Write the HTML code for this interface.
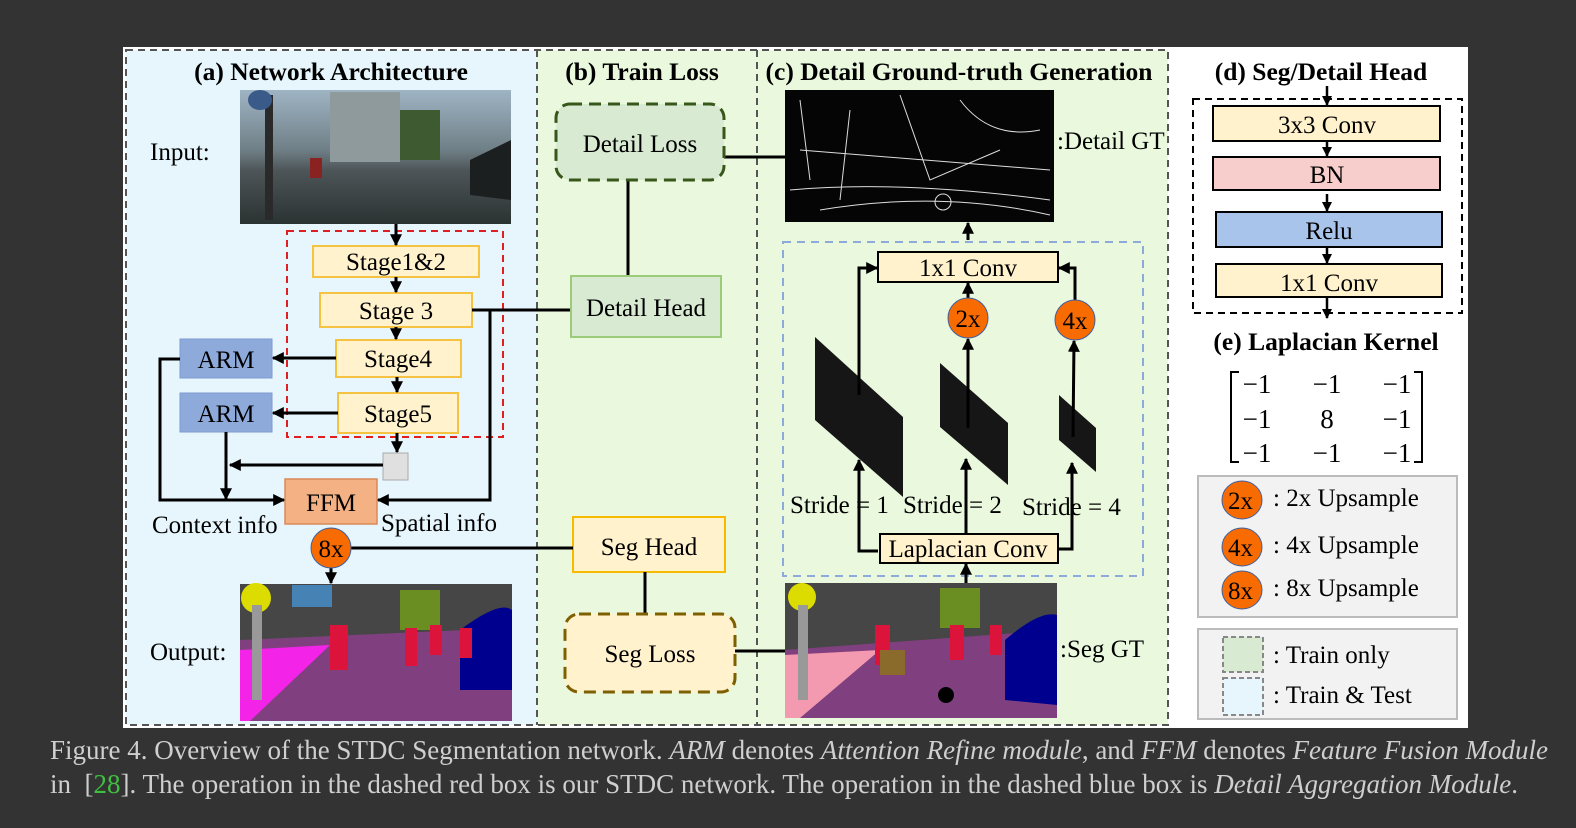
<!DOCTYPE html>
<html><head><meta charset="utf-8"><style>
body{margin:0;background:#333333;width:1576px;height:828px;overflow:hidden}
svg{position:absolute;left:0;top:0}
text{font-family:"Liberation Serif",serif;fill:#000}
.cap{position:absolute;left:50px;font-family:"Liberation Serif",serif;font-size:27px;color:#cfcfcf;white-space:nowrap}
</style></head><body>
<svg width="1576" height="828" viewBox="0 0 1576 828">
<defs>
<marker id="a" viewBox="0 0 10 10" refX="9" refY="5" markerWidth="4" markerHeight="4" orient="auto-start-reverse"><path d="M0,0L10,5L0,10z" fill="#000"/></marker>
<linearGradient id="sky" x1="0" y1="0" x2="0" y2="1"><stop offset="0" stop-color="#9fb4c4"/><stop offset="0.45" stop-color="#6f7f86"/><stop offset="0.6" stop-color="#4d5558"/><stop offset="1" stop-color="#2a3232"/></linearGradient>
</defs>
<rect x="123" y="47" width="1345" height="681" fill="#fff"/>
<rect x="126" y="50" width="411" height="675" fill="#e6f6fc"/>
<rect x="537" y="50" width="631" height="675" fill="#eaf8de"/>
<g fill="none" stroke="#555" stroke-width="2" stroke-dasharray="7,5">
<rect x="126" y="50" width="1042" height="675"/>
<line x1="537" y1="50" x2="537" y2="725"/><line x1="757" y1="50" x2="757" y2="725"/>
</g>
<g font-weight="bold" font-size="25.5" text-anchor="middle">
<text x="331" y="80">(a) Network Architecture</text>
<text x="642" y="80">(b) Train Loss</text>
<text x="959" y="80">(c) Detail Ground-truth Generation</text>
<text x="1321" y="80">(d) Seg/Detail Head</text>
<text x="1326" y="350">(e) Laplacian Kernel</text>
</g>
<rect x="240" y="90" width="271" height="134" fill="url(#sky)"/>
<rect x="330" y="92" width="70" height="70" fill="#8f9a9c"/><rect x="400" y="110" width="40" height="50" fill="#3e5a30"/>
<rect x="265" y="95" width="8" height="125" fill="#2a2a2a"/><ellipse cx="260" cy="100" rx="12" ry="10" fill="#3a5a8a"/>
<path d="M470,160 L511,140 L511,200 L470,195z" fill="#1c1f20"/>
<rect x="310" y="158" width="12" height="20" fill="#8a2222"/>
<g font-size="25"><text x="150" y="160">Input:</text><text x="150" y="660">Output:</text>
<text x="152" y="533">Context info</text><text x="381" y="531">Spatial info</text></g>
<rect x="287" y="231" width="216" height="206" fill="none" stroke="#e02020" stroke-width="2" stroke-dasharray="7,5"/>
<g fill="#fff2cc" stroke="#f5c242" stroke-width="2">
<rect x="313" y="246" width="166" height="31"/><rect x="320" y="293" width="152" height="34"/>
<rect x="336" y="340" width="125" height="37"/><rect x="338" y="393" width="120" height="40"/>
<rect x="573" y="517" width="152" height="55" stroke="#f6bb00"/>
</g>
<g fill="#8eaadb" stroke="#7e9bd0"><rect x="180" y="339" width="92" height="39"/><rect x="180" y="393" width="92" height="39"/></g>
<rect x="383" y="453" width="25" height="27" fill="#e0e0e0" stroke="#aaa"/>
<rect x="285" y="479" width="92" height="45" fill="#f4b183" stroke="#d98a5a" stroke-width="1.5"/>
<g font-size="25" text-anchor="middle">
<text x="396" y="270">Stage1&amp;2</text><text x="396" y="319">Stage 3</text><text x="398" y="367">Stage4</text><text x="398" y="422">Stage5</text>
<text x="226" y="368">ARM</text><text x="226" y="422">ARM</text><text x="331" y="511">FFM</text>
<text x="649" y="555">Seg Head</text>
</g>
<g stroke="#000" stroke-width="3" fill="none">
<line x1="396" y1="224" x2="396" y2="245" marker-end="url(#a)"/>
<line x1="396" y1="277" x2="396" y2="292" marker-end="url(#a)"/>
<line x1="396" y1="327" x2="396" y2="339" marker-end="url(#a)"/>
<line x1="397" y1="377" x2="397" y2="392" marker-end="url(#a)"/>
<line x1="397" y1="433" x2="397" y2="452" marker-end="url(#a)"/>
<line x1="336" y1="358" x2="273" y2="358" marker-end="url(#a)"/>
<line x1="338" y1="413" x2="273" y2="413" marker-end="url(#a)"/>
<line x1="383" y1="465" x2="230" y2="465" marker-end="url(#a)"/>
<line x1="226" y1="432" x2="226" y2="499" marker-end="url(#a)"/>
<polyline points="180,359 160,359 160,500 284,500" marker-end="url(#a)"/>
<polyline points="472,310 490,310 490,500 378,500" marker-end="url(#a)"/>
<line x1="472" y1="310" x2="571" y2="310"/>
<line x1="331" y1="568" x2="331" y2="583" marker-end="url(#a)"/>
<line x1="350" y1="548" x2="573" y2="548"/>
<line x1="628" y1="180" x2="628" y2="276"/>
<line x1="724" y1="157" x2="785" y2="157"/>
<line x1="645" y1="572" x2="645" y2="614"/>
<line x1="735" y1="651" x2="785" y2="651"/>
</g>
<rect x="240" y="584" width="272" height="137" fill="#464646"/>
<path d="M240,640 L512,628 L512,721 L240,721z" fill="#80407f"/>
<path d="M240,650 L330,645 L250,721 L240,721z" fill="#f423e8"/>
<rect x="400" y="590" width="40" height="40" fill="#6b8e23"/><rect x="292" y="585" width="40" height="22" fill="#4682b4"/>
<circle cx="256" cy="598" r="15" fill="#dcdc00"/><rect x="252" y="605" width="10" height="95" fill="#999"/>
<path d="M460,630 Q500,600 512,610 L512,690 L460,690z" fill="#00008e"/>
<g fill="#dc143c"><rect x="330" y="625" width="18" height="45"/><rect x="405" y="628" width="12" height="38"/><rect x="430" y="625" width="12" height="30"/><rect x="460" y="628" width="12" height="30"/></g>
<rect x="556" y="104" width="168" height="76" rx="14" fill="#d9ead3" stroke="#38571a" stroke-width="3" stroke-dasharray="12,7"/>
<rect x="571" y="276" width="150" height="61" fill="#d9ead3" stroke="#9ccc7a" stroke-width="2"/>
<rect x="565" y="614" width="170" height="78" rx="14" fill="#fff2cc" stroke="#7f6000" stroke-width="3" stroke-dasharray="12,7"/>
<g font-size="25" text-anchor="middle"><text x="640" y="152">Detail Loss</text><text x="646" y="316">Detail Head</text><text x="650" y="662">Seg Loss</text></g>
<rect x="785" y="90" width="269" height="132" fill="#050505"/>
<g stroke="#ddd" stroke-width="1" fill="none"><path d="M790,190 Q900,180 1050,200"/><path d="M800,100 L810,180"/><path d="M850,110 L840,200"/><path d="M900,95 L930,180 L1000,150"/><path d="M960,100 Q990,140 1040,130"/><path d="M800,150 L1050,170"/><circle cx="943" cy="202" r="8"/><path d="M820,210 Q940,190 1050,215"/></g>
<g font-size="25"><text x="1057" y="149">:Detail GT</text><text x="1060" y="657">:Seg GT</text></g>
<rect x="783" y="242" width="360" height="334" fill="none" stroke="#8eaadb" stroke-width="2" stroke-dasharray="8,6"/>
<g fill="#161616"><polygon points="815,337 903,417 903,497 815,420"/><polygon points="940,363 1008,423 1008,485 940,427"/><polygon points="1059,395 1096,428 1096,472 1059,440"/></g>
<g fill="#fff2cc" stroke="#000" stroke-width="2"><rect x="878" y="252" width="180" height="30"/><rect x="880" y="534" width="178" height="29"/></g>
<g font-size="25" text-anchor="middle"><text x="968" y="276">1x1 Conv</text><text x="968" y="557">Laplacian Conv</text></g>
<g font-size="25"><text x="790" y="513">Stride = 1</text><text x="903" y="513">Stride = 2</text><text x="1022" y="515">Stride = 4</text></g>
<g stroke="#000" stroke-width="3" fill="none">
<line x1="968" y1="240" x2="968" y2="223" marker-end="url(#a)"/>
<polyline points="878,551 859,551 859,460" marker-end="url(#a)"/>
<polyline points="859,395 859,268 877,268" marker-end="url(#a)"/>
<line x1="966" y1="534" x2="966" y2="459" marker-end="url(#a)"/>
<line x1="968" y1="428" x2="968" y2="339" marker-end="url(#a)"/>
<line x1="968" y1="298" x2="968" y2="283" marker-end="url(#a)"/>
<polyline points="1058,549 1072,549 1072,463" marker-end="url(#a)"/>
<line x1="1073" y1="437" x2="1074" y2="341" marker-end="url(#a)"/>
<polyline points="1075,300 1075,268 1059,268" marker-end="url(#a)"/>
<line x1="966" y1="584" x2="966" y2="564" marker-end="url(#a)"/>
</g>
<rect x="785" y="583" width="272" height="135" fill="#464646"/>
<path d="M785,650 L1057,630 L1057,718 L785,718z" fill="#80407f"/>
<path d="M785,655 L880,650 L800,718 L785,718z" fill="#f49ab0"/>
<rect x="940" y="588" width="40" height="40" fill="#6b8e23"/><circle cx="802" cy="597" r="14" fill="#dcdc00"/><rect x="798" y="605" width="10" height="95" fill="#999"/>
<path d="M1005,640 Q1040,610 1057,615 L1057,705 L1005,700z" fill="#00008e"/><circle cx="946" cy="695" r="8" fill="#000"/>
<g fill="#dc143c"><rect x="875" y="625" width="15" height="40"/><rect x="950" y="625" width="14" height="35"/><rect x="990" y="625" width="12" height="30"/></g>
<rect x="880" y="650" width="25" height="25" fill="#8b6b2b"/>
<g fill="#f76b00" stroke="#4060a0" stroke-width="1">
<circle cx="331" cy="548" r="20"/><circle cx="968" cy="318" r="20"/><circle cx="1075" cy="320" r="20"/>
</g>
<g font-size="25" text-anchor="middle"><text x="331" y="557">8x</text><text x="968" y="327">2x</text><text x="1075" y="329">4x</text></g>
<rect x="1193" y="99" width="269" height="214" fill="none" stroke="#000" stroke-width="2" stroke-dasharray="7,5"/>
<g stroke="#000" stroke-width="2"><rect x="1213" y="106" width="227" height="35" fill="#fff2cc"/><rect x="1213" y="157" width="227" height="33" fill="#f8cecc"/><rect x="1216" y="212" width="226" height="35" fill="#a9c4eb"/><rect x="1216" y="264" width="226" height="33" fill="#fff2cc"/></g>
<g stroke="#000" stroke-width="2.5">
<line x1="1327" y1="86" x2="1327" y2="105" marker-end="url(#a)"/><line x1="1327" y1="141" x2="1327" y2="156" marker-end="url(#a)"/>
<line x1="1327" y1="194" x2="1327" y2="211" marker-end="url(#a)"/><line x1="1327" y1="247" x2="1327" y2="263" marker-end="url(#a)"/>
<line x1="1327" y1="297" x2="1327" y2="318" marker-end="url(#a)"/></g>
<g font-size="25" text-anchor="middle"><text x="1327" y="133">3x3 Conv</text><text x="1327" y="183">BN</text><text x="1329" y="239">Relu</text><text x="1329" y="291">1x1 Conv</text></g>
<g font-family="'DejaVu Serif',serif" font-size="27" text-anchor="middle"><text x="1257" y="393">−1</text><text x="1327" y="393">−1</text><text x="1397" y="393">−1</text><text x="1257" y="428">−1</text><text x="1327" y="428">8</text><text x="1397" y="428">−1</text><text x="1257" y="462">−1</text><text x="1327" y="462">−1</text><text x="1397" y="462">−1</text></g>
<g stroke="#000" stroke-width="2" fill="none"><polyline points="1239,372 1231,372 1231,462 1239,462"/><polyline points="1414,372 1422,372 1422,462 1414,462"/></g>
<rect x="1198" y="476" width="259" height="141" fill="#f2f2f2" stroke="#bbb" stroke-width="2"/>
<rect x="1198" y="629" width="259" height="90" fill="#f2f2f2" stroke="#bbb" stroke-width="2"/>
<g fill="#f76b00" stroke="#4060a0"><ellipse cx="1242" cy="500" rx="20" ry="19"/><ellipse cx="1242" cy="547" rx="20" ry="19"/><ellipse cx="1242" cy="590" rx="20" ry="19"/></g>
<g stroke="#888" stroke-width="2" stroke-dasharray="5,3"><rect x="1223" y="637" width="40" height="35" fill="#d9ead3"/><rect x="1223" y="678" width="40" height="37" fill="#e6f6fc"/></g>
<g font-size="25"><text x="1228" y="509">2x</text><text x="1228" y="556">4x</text><text x="1228" y="599">8x</text>
<text x="1273" y="506">: 2x Upsample</text><text x="1273" y="553">: 4x Upsample</text><text x="1273" y="596">: 8x Upsample</text>
<text x="1273" y="663">: Train only</text><text x="1273" y="703">: Train &amp; Test</text></g>
</svg>
<div class="cap" style="top:735px">Figure 4. Overview of the STDC Segmentation network. <i>ARM</i> denotes <i>Attention Refine module</i>, and <i>FFM</i> denotes <i>Feature Fusion Module</i></div>
<div class="cap" style="top:769px">in &nbsp;[<span style="color:#3fbf3f">28</span>]. The operation in the dashed red box is our STDC network. The operation in the dashed blue box is <i>Detail Aggregation Module</i>.</div>
</body></html>
